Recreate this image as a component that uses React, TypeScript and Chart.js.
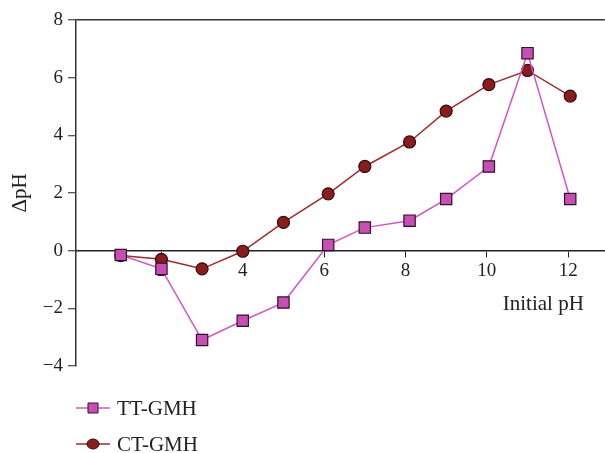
import React, { useEffect, useRef } from "react";
import { Chart, registerables } from "chart.js";

Chart.register(...registerables);

const initialPH = [1, 2, 3, 4, 5, 6.1, 7, 8.1, 9, 10.05, 11, 12.05];
const ttGMH = [-0.15, -0.63, -3.1, -2.43, -1.8, 0.2, 0.8, 1.04, 1.79, 2.92, 6.85, 1.79];
const ctGMH = [-0.17, -0.3, -0.63, -0.02, 0.98, 1.97, 2.92, 3.77, 4.84, 5.76, 6.25, 5.36];
const xTicks = [2, 4, 6, 8, 10, 12];
const seriesLabels = ["TT-GMH", "CT-GMH"];
const xTitle = "Initial pH";
const yTitle = "\u0394pH";

const FONT = "'Liberation Serif', 'DejaVu Serif', serif";
const TEXT = "#222";
const VIEW_W = 605;
const CANVAS_W = 614;

const legendPlugin = {
  id: "lineLegend",
  afterDraw(chart: any) {
    const ctx = chart.ctx;
    const area = chart.chartArea;
    const ys = chart.scales.y;
    const right = Math.min(area.right, VIEW_W);
    ctx.save();
    // x-axis title
    ctx.font = `21px ${FONT}`;
    ctx.fillStyle = TEXT;
    ctx.textAlign = "right";
    ctx.textBaseline = "middle";
    ctx.fillText(xTitle, right - 21, ys.getPixelForValue(0) + 54);
    // legend
    chart.data.datasets.forEach((ds: any, i: number) => {
      const y = area.bottom + 42 + i * 36;
      const x0 = area.left;
      const x1 = area.left + 34;
      ctx.strokeStyle = ds.borderColor;
      ctx.lineWidth = 1.5;
      ctx.beginPath();
      ctx.moveTo(x0, y);
      ctx.lineTo(x1, y);
      ctx.stroke();
      const cx = (x0 + x1) / 2;
      ctx.fillStyle = ds.pointBackgroundColor;
      ctx.strokeStyle = ds.pointBorderColor;
      ctx.lineWidth = 1;
      ctx.beginPath();
      if (ds.pointStyle === "rect") {
        ctx.rect(cx - 5, y - 5, 10, 10);
      } else {
        ctx.ellipse(cx, y, 6, 5, 0, 0, Math.PI * 2);
      }
      ctx.fill();
      ctx.stroke();
      ctx.font = `21px ${FONT}`;
      ctx.fillStyle = TEXT;
      ctx.textAlign = "left";
      ctx.textBaseline = "middle";
      ctx.fillText(ds.label, x1 + 7, y + 1);
    });
    ctx.restore();
  },
};

export default function App() {
  const ref = useRef<HTMLCanvasElement | null>(null);
  useEffect(() => {
    document.body.style.margin = "0";
    if (!ref.current) return;
    const chart = new Chart(ref.current, {
      type: "line",
      data: {
        labels: initialPH,
        datasets: [
          {
            label: seriesLabels[0],
            data: initialPH.map((x, i) => ({ x, y: ttGMH[i] })),
            borderColor: "#d355c3",
            backgroundColor: "#c94db5",
            borderWidth: 1.5,
            pointStyle: "rect",
            pointRadius: 8,
            pointHoverRadius: 8,
            pointBackgroundColor: "#c94db5",
            pointBorderColor: "#2a1626",
            pointBorderWidth: 1.2,
            tension: 0,
          },
          {
            label: seriesLabels[1],
            data: initialPH.map((x, i) => ({ x, y: ctGMH[i] })),
            borderColor: "#a3282a",
            backgroundColor: "#8e1b1b",
            borderWidth: 1.5,
            pointStyle: "circle",
            pointRadius: 6,
            pointHoverRadius: 6,
            pointBackgroundColor: "#8e1b1b",
            pointBorderColor: "#2a1010",
            pointBorderWidth: 1.2,
            tension: 0,
          },
        ],
      },
      options: {
        animation: false,
        responsive: false,
        maintainAspectRatio: false,
        layout: { padding: { top: 20, bottom: 87, right: 0, left: 0 } },
        plugins: {
          legend: { display: false },
          tooltip: { enabled: false },
        },
        scales: {
          x: {
            type: "linear",
            position: { y: 0 } as any,
            min: -0.1,
            max: 12.9,
            afterBuildTicks: (axis: any) => {
              axis.ticks = xTicks.map((v) => ({ value: v }));
            },
            grid: {
              drawOnChartArea: false,
              drawTicks: true,
              tickLength: 6,
              tickColor: "#222",
              tickWidth: 1,
            },
            border: { display: true, color: "#222", width: 1.5 },
            ticks: {
              font: { family: FONT, size: 19 },
              color: TEXT,
              padding: 3,
              maxRotation: 0,
            },
          },
          y: {
            type: "linear",
            min: -4,
            max: 8,
            afterFit: (scale: any) => {
              scale.width = 76;
            },
            grid: {
              color: (c: any) => (c.tick && c.tick.value === 8 ? "#333" : "rgba(0,0,0,0)"),
              lineWidth: 1.5,
              tickLength: 8,
              tickColor: "#222",
              tickWidth: 1,
            },
            border: { display: true, color: "#333", width: 1.5 },
            ticks: {
              stepSize: 2,
              font: { family: FONT, size: 19 },
              color: TEXT,
              padding: 5,
              callback: (v: any) => (Number(v) < 0 ? "\u2212" + Math.abs(Number(v)) : String(v)),
            },
            title: {
              display: true,
              text: yTitle,
              font: { family: FONT, size: 21 },
              color: TEXT,
              padding: { top: 8, bottom: 0 },
            },
          },
        },
      },
      plugins: [legendPlugin],
    });
    return () => chart.destroy();
  }, []);
  return (
    <div style={{ position: "relative", width: VIEW_W, height: 453, overflow: "hidden" }}>
      <canvas ref={ref} width={CANVAS_W} height={453} style={{ display: "block" }} />
    </div>
  );
}
